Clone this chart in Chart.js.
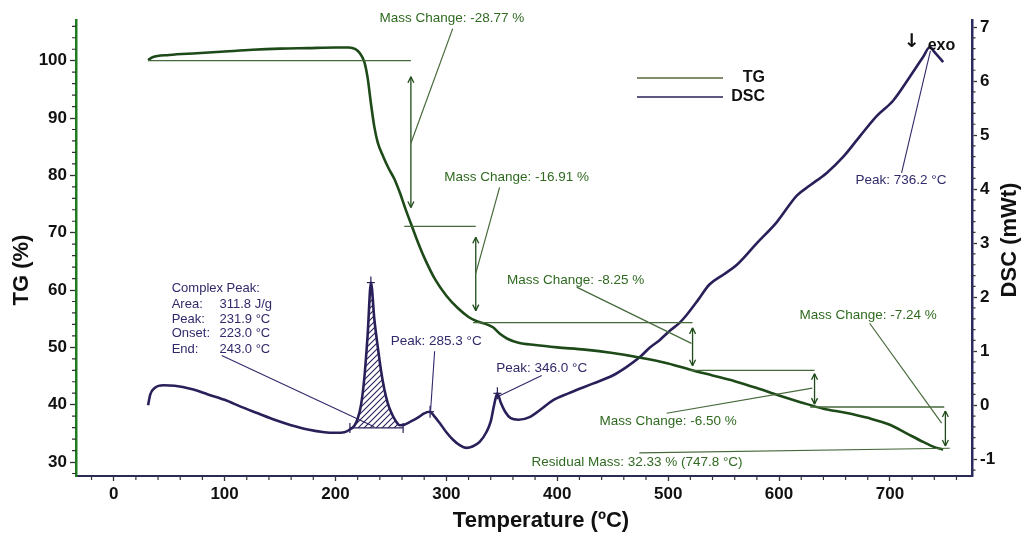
<!DOCTYPE html>
<html>
<head>
<meta charset="utf-8">
<script src="https://cdn.jsdelivr.net/npm/chart.js@4.4.1/dist/chart.umd.min.js"></script>
<style>
  html, body { margin: 0; padding: 0; background: #fff; }
  #wrap { width: 1029px; height: 538px; }
</style>
</head>
<body>
<div id="wrap"><canvas id="tgDsc"></canvas></div>
<script>
// TG curve (temperature °C -> mass %)
const tgTemp = [31, 35, 50, 75, 100, 125, 150, 175, 200, 212, 218, 222, 226, 229, 232, 235, 238, 243, 248, 253, 258, 263, 268, 273, 280, 290, 300, 310, 320, 328, 335, 342, 348, 355, 365, 380, 400, 425, 450, 475, 500, 520, 540, 560, 580, 600, 620, 640, 660, 680, 700, 715, 730, 740, 748];
const tgVal = [100.1, 100.6, 101.0, 101.3, 101.6, 101.9, 102.1, 102.2, 102.3, 102.3, 102.0, 101.3, 99.8, 97.0, 92.5, 88.5, 85.8, 83.3, 81.2, 79.4, 77.0, 74.2, 71.6, 69.0, 65.7, 61.8, 59.0, 56.9, 55.3, 54.5, 54.1, 53.5, 52.4, 51.5, 50.8, 50.4, 50.0, 49.6, 49.0, 48.2, 47.2, 46.1, 45.1, 44.1, 42.9, 41.6, 40.4, 39.3, 38.6, 37.7, 36.5, 35.0, 33.5, 32.6, 32.2];

// DSC curve (temperature °C -> mW)
const dscTemp = [31, 33, 37, 45, 55, 70, 85, 100, 115, 130, 145, 160, 175, 190, 200, 208, 213, 217, 220, 223, 226, 229, 232, 235, 238, 241, 244, 247, 250, 254, 258, 262, 268, 275, 280, 285, 289, 294, 300, 306, 312, 318, 324, 330, 336, 340, 343, 346, 349, 353, 358, 365, 375, 385, 396, 410, 432, 450, 462, 475, 483, 492, 501, 510, 517, 527, 537, 550, 562, 580, 598, 616, 628, 643, 658, 673, 688, 703, 718, 730, 736, 740, 748];
const dscVal = [0.0, 0.2, 0.32, 0.37, 0.36, 0.3, 0.2, 0.1, -0.03, -0.15, -0.27, -0.37, -0.45, -0.5, -0.51, -0.5, -0.45, -0.38, -0.25, 0.0, 0.5, 1.3, 2.27, 1.6, 1.1, 0.65, 0.3, 0.05, -0.12, -0.28, -0.37, -0.36, -0.3, -0.22, -0.15, -0.12, -0.2, -0.33, -0.5, -0.64, -0.74, -0.79, -0.76, -0.68, -0.5, -0.3, 0.0, 0.22, 0.05, -0.12, -0.24, -0.27, -0.22, -0.08, 0.09, 0.22, 0.4, 0.55, 0.7, 0.9, 1.06, 1.2, 1.37, 1.52, 1.68, 1.95, 2.23, 2.42, 2.6, 3.0, 3.39, 3.88, 4.07, 4.3, 4.6, 4.98, 5.35, 5.64, 6.08, 6.45, 6.63, 6.54, 6.35];

// tick labels
const tempTicks = [0, 100, 200, 300, 400, 500, 600, 700];
const tgTicks = [30, 40, 50, 60, 70, 80, 90, 100];
const dscTicks = [-1, 0, 1, 2, 3, 4, 5, 6, 7];

// complex peak integration (hatched) limits
const peakFrom = 216, peakTo = 259, peakBase = -0.42;

// TG step annotations, in data units
const tgLevelLines = [[31, 268, 100.0], [262, 326.5, 71.1], [324, 522, 54.3], [519, 632, 46.0], [628, 749, 39.6]];
const tgArrows = [[268, 97.2, 74.4], [326.5, 69.2, 56.4], [522, 53.4, 46.8], [632, 45.4, 40.1], [750, 38.9, 32.8]];
const tgLabels = [
  ['Mass Change: -28.77 %', 305, 107.4, 305.7, 105.6, 268, 85.6],
  ['Mass Change: -16.91 %', 363.4, 79.6, 348, 77.9, 326.5, 62.9],
  ['Mass Change: -8.25 %', 416.6, 61.7, 417.5, 60.5, 521, 50.7],
  ['Mass Change: -6.50 %', 500, 37.1, 498.6, 38.5, 630, 42.9],
  ['Mass Change: -7.24 %', 680.3, 55.6, 681.7, 54.2, 746.6, 36.8],
  ['Residual Mass: 32.33 % (747.8 °C)', 472, 30.0, 474, 31.6, 754, 32.4]
];
// DSC annotations
const dscLabels = [
  ['Peak: 285.3 °C', 290.8, 1.19, 289.4, 1.0, 285.6, -0.15],
  ['Peak: 346.0 °C', 386, 0.68, 386, 0.55, 345.6, 0.15],
  ['Peak: 736.2 °C', 710, 4.16, 710.5, 4.3, 736.5, 6.56]
];
const complexLines = [['Complex Peak:', ''], ['Area:', '311.8 J/g'], ['Peak:', '231.9 °C'], ['Onset:', '223.0 °C'], ['End:', '243.0 °C']];
const complexLineY = [2.16, 1.87, 1.59, 1.32, 1.04];
const peakMarks = [[231.9, 2.27], [285.3, -0.12], [346.0, 0.22]];

const FONT = '"Liberation Sans", Arial, sans-serif';
const TG_COLOR = '#1d4a18';
const DSC_COLOR = '#29205a';
const TG_NOTE = '#2f6a20';
const TG_LINE = '#46693a';
const DSC_NOTE = '#302a6a';

function hatchPattern() {
  const c = document.createElement('canvas');
  c.width = 6; c.height = 6;
  const g = c.getContext('2d');
  g.strokeStyle = DSC_COLOR;
  g.lineWidth = 1.1;
  g.beginPath();
  g.moveTo(0, 6); g.lineTo(6, 0);
  g.moveTo(-1, 1); g.lineTo(1, -1);
  g.moveTo(5, 7); g.lineTo(7, 5);
  g.stroke();
  return g.createPattern(c, 'repeat');
}

const tgPoints = tgTemp.map((t, i) => ({ x: t, y: tgVal[i] }));
const dscPoints = dscTemp.map((t, i) => ({ x: t, y: dscVal[i] }));
const peakPoints = dscPoints.filter(p => p.x >= peakFrom && p.x <= peakTo);

const notes = {
  id: 'notes',
  afterDatasetsDraw(chart) {
    const ctx = chart.ctx;
    const X = v => chart.scales.x.getPixelForValue(v);
    const Y = v => chart.scales.y.getPixelForValue(v);
    const Y1 = v => chart.scales.y1.getPixelForValue(v);
    const line = (x1, y1, x2, y2) => { ctx.beginPath(); ctx.moveTo(x1, y1); ctx.lineTo(x2, y2); ctx.stroke(); };
    ctx.save();

    // TG level lines and double arrows
    ctx.strokeStyle = TG_LINE;
    ctx.lineWidth = 1.3;
    tgLevelLines.forEach(([a, b, v]) => line(X(a), Y(v), X(b), Y(v)));
    ctx.strokeStyle = TG_COLOR;
    tgArrows.forEach(([t, top, bot]) => {
      const x = X(t), yt = Y(top), yb = Y(bot);
      line(x, yt, x, yb);
      line(x - 3, yt + 6, x, yt); line(x + 3, yt + 6, x, yt);
      line(x - 3, yb - 6, x, yb); line(x + 3, yb - 6, x, yb);
    });

    // TG labels with leaders
    ctx.font = '13.5px ' + FONT;
    ctx.textAlign = 'center';
    ctx.textBaseline = 'middle';
    tgLabels.forEach(([txt, tx, ty, fx, fy, ex, ey]) => {
      ctx.strokeStyle = TG_LINE;
      ctx.lineWidth = 1.2;
      line(X(fx), Y(fy), X(ex), Y(ey));
      ctx.fillStyle = TG_NOTE;
      ctx.fillText(txt, X(tx), Y(ty));
    });

    // DSC baseline of the complex peak
    ctx.strokeStyle = DSC_COLOR;
    ctx.lineWidth = 1.2;
    const bx1 = X(peakFrom - 3), bx2 = X(peakTo + 2), by = Y1(peakBase);
    line(bx1, by, bx2, by);
    line(bx1, by - 5, bx1, by + 5);
    line(bx2, by - 5, bx2, by + 5);
    peakMarks.forEach(([t, v]) => {
      const x = X(t), y = Y1(v);
      line(x - 4, y, x + 4, y);
      line(x, y - 6, x, y + 6);
    });

    // DSC labels
    ctx.fillStyle = DSC_NOTE;
    ctx.strokeStyle = DSC_NOTE;
    ctx.lineWidth = 1.1;
    dscLabels.forEach(([txt, tx, ty, fx, fy, ex, ey]) => {
      line(X(fx), Y1(fy), X(ex), Y1(ey));
      ctx.fillText(txt, X(tx), Y1(ty));
    });
    ctx.textAlign = 'left';
    ctx.font = '13px ' + FONT;
    complexLines.forEach(([k, v], i) => {
      ctx.fillText(k, X(52.3), Y1(complexLineY[i]));
      if (v) ctx.fillText(v, X(95.4), Y1(complexLineY[i]));
    });
    line(X(97.4), Y1(0.92), X(235), Y1(-0.4));

    // exo marker
    ctx.fillStyle = '#111';
    ctx.font = 'bold 19px "DejaVu Sans", sans-serif';
    ctx.textAlign = 'center';
    ctx.fillText('↓', X(719.6), Y1(6.72));
    ctx.font = 'bold 16px ' + FONT;
    ctx.textAlign = 'left';
    ctx.fillText('exo', X(734), Y1(6.66));
    ctx.restore();
  },
  afterDraw(chart) {
    const ctx = chart.ctx;
    const a = chart.chartArea;
    const sx = chart.scales.x, sy = chart.scales.y, s1 = chart.scales.y1;
    ctx.save();
    // minor ticks
    ctx.lineWidth = 1.2;
    ctx.strokeStyle = '#333';
    ctx.beginPath();
    for (let v = 28; v <= 106; v += 2) {
      if (v % 10 === 0) continue;
      const y = sy.getPixelForValue(v);
      ctx.moveTo(a.left - 4, y); ctx.lineTo(a.left, y);
    }
    for (let v = -20; v <= 760; v += 20) {
      if (v % 100 === 0) continue;
      const x = sx.getPixelForValue(v);
      ctx.moveTo(x, a.bottom); ctx.lineTo(x, a.bottom + 4);
    }
    for (let k = -6; k <= 35; k++) {
      if (k % 5 === 0) continue;
      const y = s1.getPixelForValue(k / 5);
      ctx.moveTo(a.right, y); ctx.lineTo(a.right + 3.5, y);
    }
    ctx.stroke();

    // axis titles
    ctx.fillStyle = '#111';
    ctx.font = 'bold 22px ' + FONT;
    ctx.textAlign = 'center';
    ctx.textBaseline = 'middle';
    ctx.fillText('Temperature (ºC)', 541, 521);
    ctx.save();
    ctx.translate(22, 270); ctx.rotate(-Math.PI / 2);
    ctx.fillText('TG (%)', 0, 0);
    ctx.restore();
    ctx.save();
    ctx.translate(1010, 240); ctx.rotate(-Math.PI / 2);
    ctx.fillText('DSC (mWt)', 0, 0);
    ctx.restore();

    // legend
    ctx.lineWidth = 1.6;
    ctx.strokeStyle = '#56683a';
    ctx.beginPath(); ctx.moveTo(637, 78); ctx.lineTo(723, 78); ctx.stroke();
    ctx.strokeStyle = DSC_COLOR;
    ctx.beginPath(); ctx.moveTo(637, 97); ctx.lineTo(723, 97); ctx.stroke();
    ctx.font = 'bold 16px ' + FONT;
    ctx.textAlign = 'right';
    ctx.fillText('TG', 765, 78);
    ctx.fillText('DSC', 765, 97);
    ctx.restore();
  }
};

const tickFont = { family: FONT, size: 17, weight: 'bold' };

new Chart(document.getElementById('tgDsc'), {
  type: 'line',
  data: {
    datasets: [
      {
        label: 'TG', data: tgPoints, yAxisID: 'y',
        borderColor: TG_COLOR, borderWidth: 2.6, pointRadius: 0,
        cubicInterpolationMode: 'monotone', fill: false
      },
      {
        label: 'DSC', data: dscPoints, yAxisID: 'y1',
        borderColor: DSC_COLOR, borderWidth: 2.6, pointRadius: 0,
        cubicInterpolationMode: 'monotone', fill: false
      },
      {
        label: 'Complex Peak', data: peakPoints, yAxisID: 'y1',
        borderWidth: 0, pointRadius: 0, cubicInterpolationMode: 'monotone',
        backgroundColor: hatchPattern(), fill: { value: peakBase }
      }
    ]
  },
  options: {
    responsive: true,
    maintainAspectRatio: false,
    animation: false,
    layout: { padding: { top: 20, left: 0, right: 0, bottom: 0 } },
    plugins: { legend: { display: false }, tooltip: { enabled: false } },
    scales: {
      x: {
        type: 'linear', min: -34, max: 774,
        afterFit: s => { s.height = 62; },
        afterBuildTicks: s => { s.ticks = tempTicks.map(v => ({ value: v })); },
        border: { color: '#2a2a55', width: 2 },
        grid: { drawOnChartArea: false, tickLength: 5, tickColor: '#333', tickWidth: 1.3 },
        ticks: { font: tickFont, color: '#111', padding: 3, autoSkip: false, maxRotation: 0 }
      },
      y: {
        type: 'linear', position: 'left', min: 27.56, max: 107.1,
        afterFit: s => { s.width = 76; },
        afterBuildTicks: s => { s.ticks = tgTicks.map(v => ({ value: v })); },
        border: { color: '#1e7d1e', width: 2.5 },
        grid: { drawOnChartArea: false, tickLength: 6, tickColor: '#333', tickWidth: 1.3 },
        ticks: { font: tickFont, color: '#111', padding: 3, autoSkip: false }
      },
      y1: {
        type: 'linear', position: 'right', min: -1.31, max: 7.13,
        afterFit: s => { s.width = 57; },
        afterBuildTicks: s => { s.ticks = dscTicks.map(v => ({ value: v })); },
        border: { color: '#2a2a60', width: 2.5 },
        grid: { drawOnChartArea: false, tickLength: 5, tickColor: '#333', tickWidth: 1.3 },
        ticks: { font: tickFont, color: '#111', padding: 3, autoSkip: false }
      }
    }
  },
  plugins: [notes]
});
</script>
</body>
</html>
